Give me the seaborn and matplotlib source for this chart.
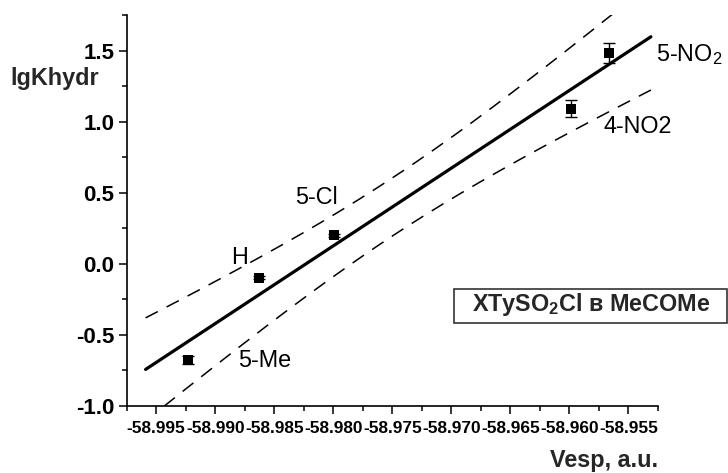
import numpy as np
import pandas as pd
import matplotlib
matplotlib.use("Agg")
import matplotlib.pyplot as plt
from matplotlib.patches import Rectangle
from matplotlib.ticker import MultipleLocator, FormatStrFormatter
import seaborn as sns

# Substituents, electrostatic potential at S (a.u.) and hydrolysis rate constants
substituents = ["5-Me", "H", "5-Cl", "4-NO2", "5-NO2"]
label_text = ["5-Me", "H", "5-Cl", "4-NO2", "5-NO$_2$"]
vesp = [-58.99227, -58.98627, -58.97998, -58.95988, -58.95667]
lgk = [-0.68, -0.10, 0.20, 1.09, 1.48]
lgk_err = [0.03, 0.01, 0.01, 0.06, 0.07]

# label offsets (pixels) relative to each point
label_dx = [50, -28, -38, 33, 47]
label_dy = [-7, 14, 31, -24, -8]

fit_range = [-58.9959, -58.9531]
t95 = 3.182  # Student t, 95 %, n-2 = 3 dof

sns.set_theme(style="ticks")
plt.rcParams["font.family"] = ["Liberation Sans", "DejaVu Sans"]
plt.rcParams["mathtext.fontset"] = "custom"
plt.rcParams["mathtext.rm"] = "Liberation Sans"
plt.rcParams["mathtext.bf"] = "Liberation Sans:bold"

df = pd.DataFrame({"Vesp": vesp, "lgK": lgk, "err": lgk_err, "X": substituents})

# least-squares line and 95 % confidence band
x = np.array(vesp)
y = np.array(lgk)
n = len(x)
xm = x.mean()
sxx = ((x - xm) ** 2).sum()
slope = ((x - xm) * (y - y.mean())).sum() / sxx
intercept = y.mean() - slope * xm
s = np.sqrt(((y - (intercept + slope * x)) ** 2).sum() / (n - 2))
xf = np.linspace(fit_range[0], fit_range[1], 200)
yf = intercept + slope * xf
half = t95 * s * np.sqrt(1.0 / n + (xf - xm) ** 2 / sxx)
fit = pd.DataFrame({"x": xf, "y": yf, "lo": yf - half, "hi": yf + half})

fig = plt.figure(figsize=(7.28, 4.73), dpi=100)
ax = fig.add_axes([126.7 / 728, 1 - 405.7 / 473, (658 - 126.7) / 728, (405.7 - 15) / 473])

sns.lineplot(data=fit, x="x", y="y", ax=ax, color="black", lw=2.3, sort=False)
for col in ["lo", "hi"]:
    sns.lineplot(data=fit, x="x", y=col, ax=ax, color="black", lw=1.1,
                 dashes=False, sort=False).lines[-1].set_dashes((9, 6.5))

ax.errorbar(df["Vesp"], df["lgK"], yerr=df["err"], fmt="none", ecolor="black",
            elinewidth=1.0, capsize=4, capthick=1.0, zorder=3)
sns.scatterplot(data=df, x="Vesp", y="lgK", ax=ax, marker="s", color="black",
                s=45, edgecolor="black", linewidth=0, zorder=4)

for xi, yi, txt, dx, dy in zip(vesp, lgk, label_text, label_dx, label_dy):
    ax.annotate(txt, (xi, yi), xytext=(dx, dy), textcoords="offset pixels",
                ha="left", va="baseline", fontsize=16.8, color="black")

ax.set_xlim(-58.9975, -58.9525)
ax.set_ylim(-1.0, 1.75)
ax.xaxis.set_major_locator(MultipleLocator(0.005))
ax.xaxis.set_minor_locator(MultipleLocator(0.0025))
ax.yaxis.set_major_locator(MultipleLocator(0.5))
ax.yaxis.set_minor_locator(MultipleLocator(0.25))
ax.xaxis.set_major_formatter(FormatStrFormatter("%.3f"))
ax.yaxis.set_major_formatter(FormatStrFormatter("%.1f"))
ax.set_xticks([v for v in np.arange(-58.995, -58.9549, 0.005)])

sns.despine(ax=ax)
for side in ["left", "bottom"]:
    ax.spines[side].set_linewidth(1.2)
    ax.spines[side].set_color("black")
ax.tick_params(axis="both", which="major", length=6, width=1.1, color="black")
ax.tick_params(axis="both", which="minor", length=3.6, width=1.1, color="black")
ax.tick_params(axis="x", which="major", pad=5, labelsize=12.4)
ax.tick_params(axis="y", which="major", pad=3, labelsize=16)
for lab in ax.get_xticklabels() + ax.get_yticklabels():
    lab.set_fontweight("bold")
    lab.set_color("black")
ax.set_xlabel("")
ax.set_ylabel("")

fig.text(10 / 728, 1 - 85 / 473, "lgKhydr", ha="left", va="baseline",
         fontsize=16.8, fontweight="bold")
fig.text(658 / 728, 1 - 467 / 473, "Vesp, a.u.", ha="right", va="baseline",
         fontsize=16.8, fontweight="bold")

# caption box
fig.patches.append(Rectangle((454 / 728, 1 - 323.3 / 473), (726.7 - 454) / 728,
                             (323.3 - 289.3) / 473, transform=fig.transFigure,
                             facecolor="white", edgecolor="#333333", lw=1.2))
fig.text(471.7 / 728, 1 - 311 / 473, r"XTySO$_\mathbf{2}$Cl в MeCOMe",
         ha="left", va="baseline", fontsize=16.8, fontweight="bold")

fig.savefig("out.png", dpi=100)
